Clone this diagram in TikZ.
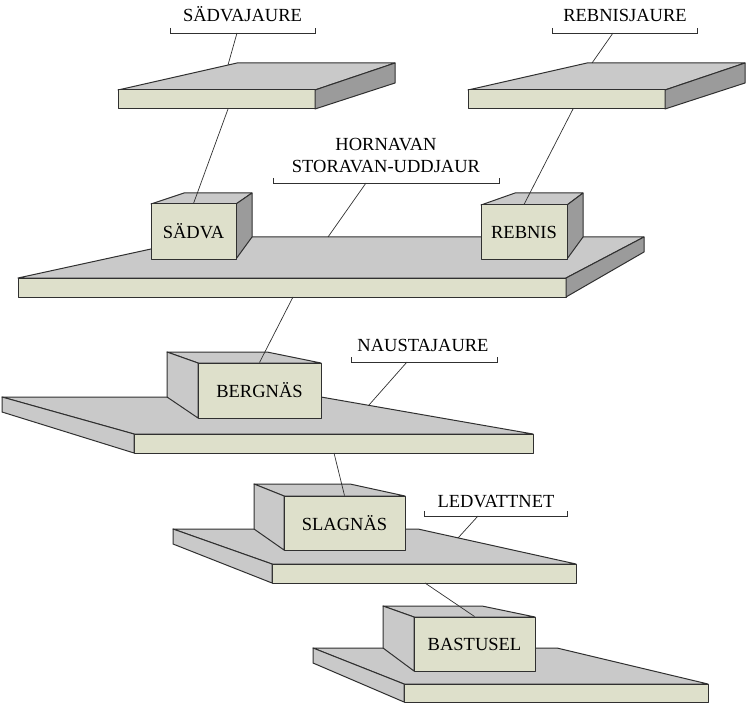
\documentclass[tikz,border=0pt]{standalone}
\usepackage{fontspec}
\setmainfont{Liberation Serif}
\usepackage{tikz}
\usetikzlibrary{calc,positioning}
\definecolor{topc}{HTML}{C9C9C9}
\definecolor{frontc}{HTML}{DEE0CB}
\definecolor{sidec}{HTML}{9B9B9B}
\definecolor{linec}{HTML}{303030}
\tikzset{
  face/.style={draw=linec,line width=1pt,line join=round},
  topf/.style={face,fill=topc},
  frontf/.style={face,fill=frontc},
  sidef/.style={face,fill=sidec},
  boxf/.style={frontf,inner sep=0pt,minimum width=#1,minimum height=55pt},
  lbl/.style={font=\fontsize{18.5}{22}\selectfont,align=center},
  lead/.style={draw=linec,line width=0.7pt}
}
\newcommand{\brkt}[3]{\draw[lead,line width=0.9pt] (#1,#3-5)--(#1,#3)--(#2,#3)--(#2,#3-5);}

\begin{document}
\begin{tikzpicture}[x=1pt,y=-1pt]
\useasboundingbox (0,0) rectangle (746,703);
% upper lakes
\draw[topf] (118,90)--(237,63)--(395,63)--(315,90)--cycle;
\draw[frontf] (118,90) rectangle (315,109);
\draw[sidef] (315,90)--(395,63)--(395,83)--(315,109)--cycle;
\draw[topf] (468,90)--(587,63)--(745,63)--(665,90)--cycle;
\draw[frontf] (468,90) rectangle (665,109);
\draw[sidef] (665,90)--(745,63)--(745,83)--(665,109)--cycle;
% Hornavan
\draw[topf] (18,278)--(206,237)--(644,237)--(566,278)--cycle;
\draw[frontf] (18,278) rectangle (566,297);
\draw[sidef] (566,278)--(644,237)--(644,252)--(566,297)--cycle;
\draw[topf] (151,204)--(184,193)--(252,193)--(236,204)--cycle;
\draw[sidef] (236,204)--(252,193)--(252,237)--(236,259)--cycle;
\node[boxf=85pt,lbl] (sadva) at (193.5,231.5) {SÄDVA};
\draw[topf] (481,205)--(515,193)--(583,193)--(567,205)--cycle;
\draw[sidef] (567,205)--(583,193)--(583,237)--(567,259)--cycle;
\node[boxf=86pt,lbl,minimum height=54pt] (rebnis) at (524,232) {REBNIS};
% Naustajaure
\draw[topf] (2,397)--(321,397)--(533,434)--(134,434)--cycle;
\draw[frontf] (134,434) rectangle (533,453);
\draw[topf] (2,397)--(134,434)--(134,453)--(2,412)--cycle;
\draw[topf] (198,363)--(167,352)--(267,352)--(321,363)--cycle;
\draw[topf] (167,352)--(198,363)--(198,418)--(167,397)--cycle;
\node[boxf=123pt,lbl] (bergnas) at (259.5,390.5) {BERGNÄS};
% Ledvattnet
\draw[topf] (173,529)--(418,529)--(576,564)--(272,564)--cycle;
\draw[frontf] (272,564) rectangle (576,583);
\draw[topf] (173,529)--(272,564)--(272,583)--(173,544)--cycle;
\draw[topf] (284,496)--(254,484)--(350,484)--(405,496)--cycle;
\draw[topf] (254,484)--(284,496)--(284,550)--(254,529)--cycle;
\node[boxf=121pt,lbl,minimum height=54pt] (slagnas) at (344.5,523) {SLAGNÄS};
% Bastusel
\draw[topf] (313,648)--(557,648)--(708,684)--(404,684)--cycle;
\draw[frontf] (404,684) rectangle (708,702);
\draw[topf] (313,648)--(404,684)--(404,702)--(313,663)--cycle;
\draw[topf] (414,617)--(383,606)--(482,606)--(535,617)--cycle;
\draw[topf] (383,606)--(414,617)--(414,671)--(383,648)--cycle;
\node[boxf=121pt,lbl,minimum height=54pt] (bastusel) at (474.5,644) {BASTUSEL};
% labels
\node[lbl,anchor=base] (lsdj) at (242.5,22) {SÄDVAJAURE};
\node[lbl,anchor=base] (lrbj) at (625,22) {REBNISJAURE};
\node[lbl] (lhorn) at (386,156) {HORNAVAN\\STORAVAN-UDDJAUR};
\node[lbl,anchor=base] (lnau) at (423,351) {NAUSTAJAURE};
\node[lbl,anchor=base] (lled) at (496,507) {LEDVATTNET};
\brkt{170}{315}{33}
\brkt{552}{697}{33}
\brkt{273}{499}{183}
\brkt{351}{497}{362}
\brkt{424}{567}{516}
% leader ends
\coordinate (sdj-t) at (237,33);  \coordinate (sdj-s) at (228,65);
\coordinate (rbj-t) at (613,33);  \coordinate (rbj-s) at (592,63);
\coordinate (horn-t) at (366,183); \coordinate (horn-s) at (328,237);
\coordinate (nau-t) at (407,362); \coordinate (nau-s) at (369,405);
\coordinate (led-t) at (478,516); \coordinate (led-s) at (458,538);
\coordinate (sdj-b) at (228,109); \coordinate (rbj-b) at (573,109);
\coordinate (horn-b) at (293,297); \coordinate (nau-b) at (334,453);
\coordinate (led-b) at (425,583);
\draw[lead] (sdj-t)--(sdj-s) (rbj-t)--(rbj-s) (horn-t)--(horn-s)
  (nau-t)--(nau-s) (led-t)--(led-s);
\draw[lead] (sdj-b)--(sadva.north) (rbj-b)--(rebnis.north)
  (horn-b)--(bergnas.north) (nau-b)--(slagnas.north) (led-b)--(bastusel.north);
\end{tikzpicture}
\end{document}
